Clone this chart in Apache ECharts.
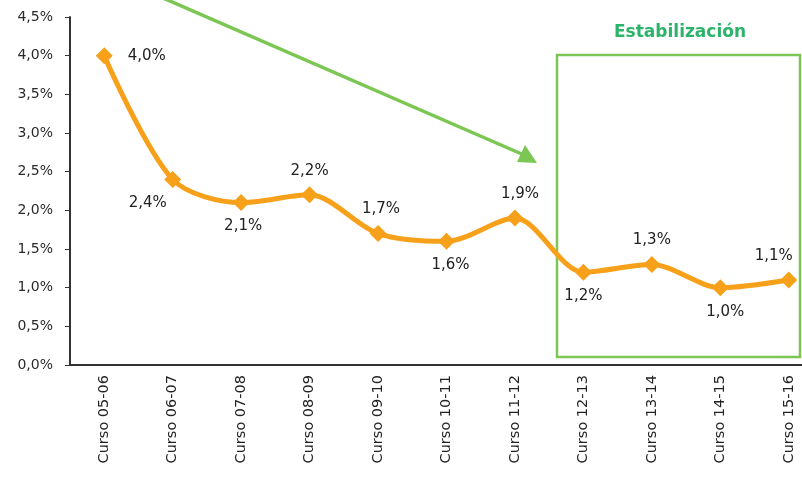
<!DOCTYPE html>
<html>
<head>
<meta charset="utf-8">
<script src="https://cdn.jsdelivr.net/npm/echarts@6/dist/echarts.min.js"></script>
<style>
  html, body { margin: 0; padding: 0; background: #fff; }
  #main { width: 802px; height: 477px; }
</style>
</head>
<body>
<div id="main"></div>
<script>
// cursos y tasa
const categories = ['Curso 05-06', 'Curso 06-07', 'Curso 07-08', 'Curso 08-09', 'Curso 09-10',
  'Curso 10-11', 'Curso 11-12', 'Curso 12-13', 'Curso 13-14', 'Curso 14-15', 'Curso 15-16'];
const values = [4.0, 2.4, 2.1, 2.2, 1.7, 1.6, 1.9, 1.2, 1.3, 1.0, 1.1];
const labelPos = ['right', 'bottom', 'bottom', 'top', 'top', 'bottom', 'top', 'bottom', 'top', 'bottom', 'top'];
const labelShift = [3, -25, 2, 0, 3, 4, 5, 0, 0, 5, -15];

const fmt = v => v.toFixed(1).replace('.', ',') + '%';
const green = '#7cc653';
const font = 'DejaVu Sans, sans-serif';

const chart = echarts.init(document.getElementById('main'));
chart.setOption({
  animation: false,
  textStyle: { fontFamily: font },
  grid: { left: 70, top: 17, width: 753, height: 348, outerBoundsMode: 'none', containLabel: false },
  xAxis: {
    type: 'category',
    data: categories,
    axisLine: { lineStyle: { color: '#333', width: 2 } },
    axisTick: { alignWithLabel: true, length: 5, lineStyle: { color: '#333' } },
    axisLabel: { rotate: 90, fontSize: 14.5, color: '#222', margin: 10 }
  },
  yAxis: {
    type: 'value',
    min: 0,
    max: 4.5,
    interval: 0.5,
    splitLine: { show: false },
    axisLine: { show: true, lineStyle: { color: '#333', width: 2 } },
    axisTick: { show: true, length: 5, lineStyle: { color: '#333' } },
    axisLabel: { fontSize: 14, color: '#2a2a2a', margin: 17, formatter: v => fmt(v) }
  },
  series: [{
    type: 'line',
    smooth: 0.3,
    data: values.map((v, i) => ({
      value: v,
      label: {
        position: labelPos[i],
        distance: labelPos[i] === 'right' ? 12 : 8,
        offset: [labelShift[i], 0]
      }
    })),
    symbol: 'diamond',
    symbolSize: 17,
    lineStyle: { color: '#f7a01a', width: 5 },
    itemStyle: { color: '#f7a01a' },
    label: { show: true, fontSize: 15, color: '#222', formatter: p => fmt(p.value) }
  }],
  graphic: [
    // recuadro de estabilización
    { type: 'rect', shape: { x: 557, y: 55, width: 243, height: 302 },
      style: { fill: 'none', stroke: green, lineWidth: 2.5 } },
    { type: 'text', x: 680, y: 33,
      style: { text: 'Estabilización', fill: '#2bb36a', font: 'bold 17px DejaVu Sans, sans-serif',
        textAlign: 'center', textVerticalAlign: 'middle' } },
    // flecha descendente
    { type: 'line', shape: { x1: 163, y1: -2, x2: 524, y2: 155 },
      style: { stroke: green, lineWidth: 3.5 } },
    { type: 'polygon', shape: { points: [[537, 163], [517, 162], [525, 145]] },
      style: { fill: green } }
  ]
});
</script>
</body>
</html>
